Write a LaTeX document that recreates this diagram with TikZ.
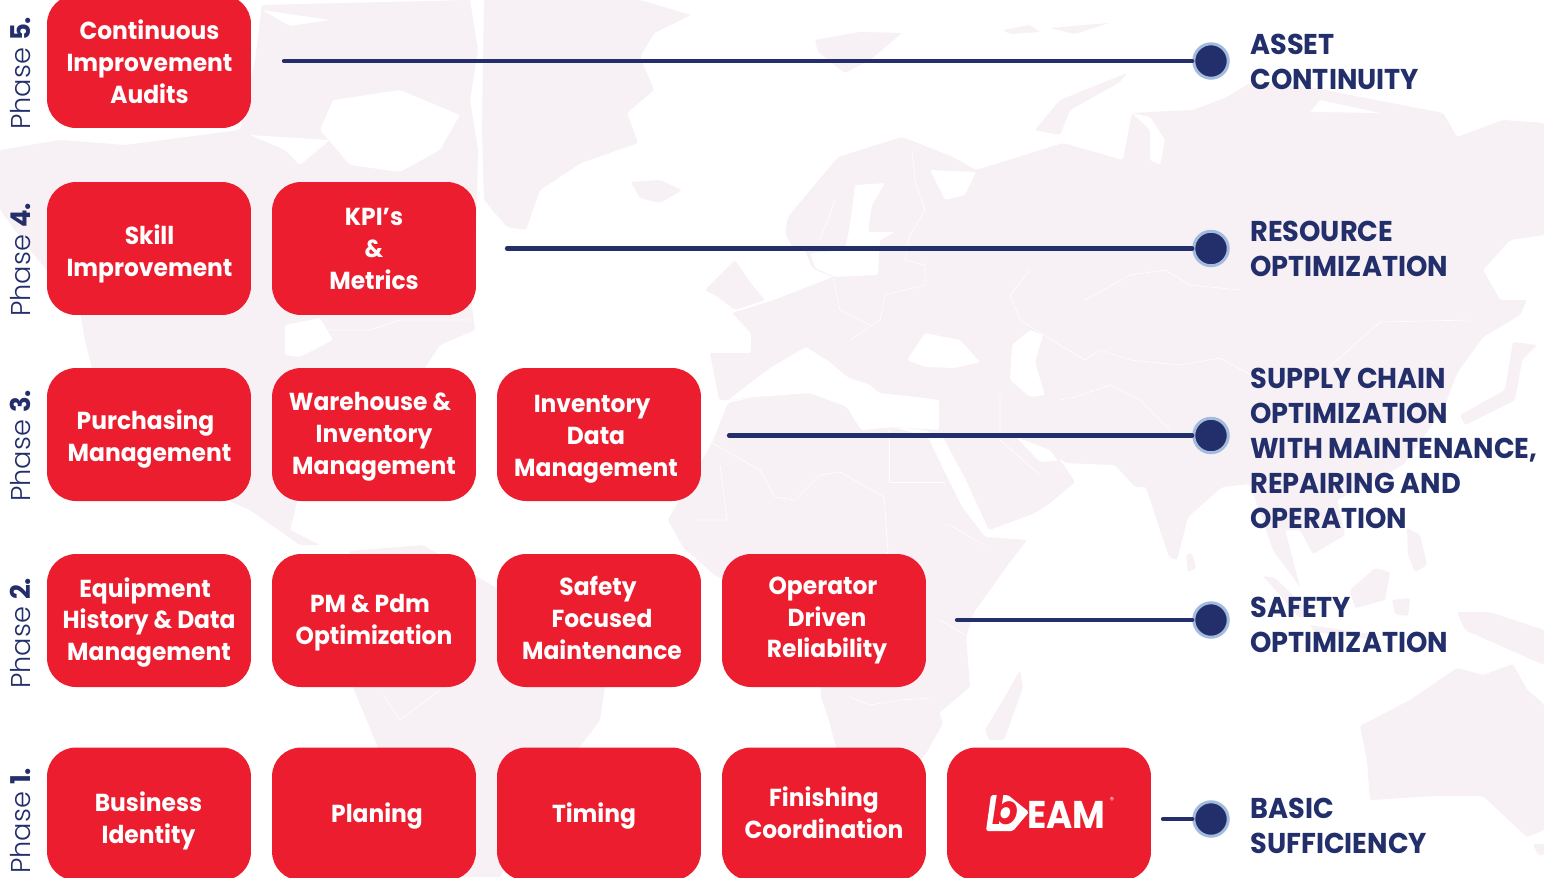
\documentclass[tikz,border=0pt]{standalone}
\usepackage{fontspec}
\setmainfont[FakeStretch=0.95]{Poppins}
\newfontfamily\phasefont{Poppins Light}
\usetikzlibrary{calc}
\definecolor{boxred}{HTML}{EC1D2E}
\definecolor{navyink}{HTML}{232F6B}
\definecolor{dotring}{HTML}{A3BCDD}
\definecolor{landpink}{HTML}{F7F0F4}
\tikzset{
	land/.style={fill=landpink, rounded corners=1.2pt},
	sea/.style={fill=white, rounded corners=1.2pt},
	border/.style={draw=white, line width=0.35pt},
	taskbox/.style={fill=boxred, rounded corners=0.58cm, minimum width=4.08cm, minimum height=2.66cm, inner sep=0pt},
	tasktext/.style={text=white, inner sep=0pt, align=center, font=\fontsize{14}{18.2}\selectfont\bfseries},
	goallabel/.style={text=navyink, anchor=west, inner sep=0pt, align=left, font=\fontsize{16.3}{19.9}\selectfont\bfseries},
	phaselabel/.style={text=navyink, rotate=90, anchor=base west, inner sep=0pt, font=\fontsize{15.5}{18}\selectfont},
	golink/.style={draw=navyink, line width=2.4pt, line cap=round},
	godot/.style={circle, fill=navyink, draw=dotring, line width=1.7pt, minimum size=0.69cm, inner sep=0pt}
}
\newcommand{\phasetag}[1]{{\phasefont Phase} {\bfseries #1.}}
\newcommand{\nudge}{\hspace*{4.5pt}}

\begin{document}
\begin{tikzpicture}[x=0.02cm, y=-0.02cm]
	%%%%% PAGE %%%%%
	\clip (0, 0) rectangle (1544, 877);
	\fill[white] (0, 0) rectangle (1544, 877);

	%%%%% MAP %%%%%
	% north america
	\fill[land] (0,150) -- (60,140) -- (125,145) -- (240,130) -- (255,60) -- (262,5) -- (470,0) -- (478,50) -- (470,100) -- (478,150) -- (476,235) -- (470,290) -- (475,330) -- (440,345) -- (420,375) -- (385,395) -- (375,420) -- (355,450) -- (370,490) -- (350,490) -- (330,480) -- (300,490) -- (290,530) -- (320,545) -- (300,545) -- (250,510) -- (205,490) -- (150,450) -- (100,400) -- (85,340) -- (80,310) -- (30,250) -- (0,210) -- cycle;
	\fill[sea] (333,100) -- (400,90) -- (460,115) -- (440,150) -- (400,172) -- (350,165) -- (320,130) -- cycle;
	\fill[sea] (285,150) -- (250,135) -- (330,140) -- (300,165) -- cycle;
	\fill[sea] (285,325) -- (320,318) -- (333,340) -- (300,357) -- (285,355) -- cycle;
	\fill[sea] (262,10) -- (330,20) -- (290,26) -- cycle;
	% greenland, iceland, svalbard and the rest of the north
	\fill[land] (484,0) -- (640,0) -- (691,15) -- (654,33) -- (640,57) -- (654,90) -- (627,113) -- (638,143) -- (581,163) -- (540,190) -- (526,230) -- (507,227) -- (484,200) -- (482,130) -- cycle;
	\fill[land] (631,182) -- (660,180) -- (682,190) -- (660,203) -- (640,198) -- cycle;
	\fill[land] (815,40) -- (860,32) -- (902,33) -- (870,60) -- (845,73) -- (818,52) -- cycle;
	\fill[land] (1003,30) -- (1030,25) -- (1040,32) -- (1010,34) -- cycle;
	\fill[land] (1050,28) -- (1109,23) -- (1075,34) -- cycle;
	\fill[land] (1035,130) -- (1060,100) -- (1127,73) -- (1120,82) -- (1070,110) -- (1060,135) -- cycle;
	% british isles
	\fill[land] (705,290) -- (720,275) -- (735,260) -- (752,285) -- (765,300) -- (735,310) -- (715,295) -- cycle;
	% eurasia
	\fill[land] (788,217) -- (838,157) -- (902,137) -- (953,157) -- (976,170) -- (999,163) -- (1063,143) -- (1123,160) -- (1132,113) -- (1193,110) -- (1227,97) -- (1250,83) -- (1310,87) -- (1360,97) -- (1443,113) -- (1457,137) -- (1503,120) -- (1544,123) -- (1544,235) -- (1510,240) -- (1483,270) -- (1500,300) -- (1527,300) -- (1520,315) -- (1483,337) -- (1457,373) -- (1443,410) -- (1403,465) -- (1337,500) -- (1345,535) -- (1313,554) -- (1300,530) -- (1285,530) -- (1300,587) -- (1273,550) -- (1250,484) -- (1222,487) -- (1188,517) -- (1177,560) -- (1169,557) -- (1146,487) -- (1135,487) -- (1115,465) -- (1066,463) -- (1058,457) -- (1075,482) -- (1050,503) -- (1035,513) -- (989,530) -- (966,480) -- (943,437) -- (925,430) -- (893,427) -- (861,430) -- (847,407) -- (810,393) -- (728,400) -- (719,400) -- (710,353) -- (751,353) -- (751,333) -- (732,313) -- (774,300) -- (833,277) -- (812,268) -- (805,250) -- (792,247) -- (785,233) -- cycle;
	% africa
	\fill[land] (728,403) -- (755,397) -- (810,393) -- (847,407) -- (861,430) -- (893,427) -- (928,437) -- (945,473) -- (962,507) -- (985,537) -- (1027,540) -- (1010,562) -- (974,612) -- (966,637) -- (970,687) -- (939,713) -- (943,723) -- (928,750) -- (900,790) -- (860,790) -- (836,747) -- (828,717) -- (821,697) -- (820,600) -- (770,585) -- (717,577) -- (683,547) -- (668,520) -- (712,443) -- cycle;
	\fill[land] (985,730) -- (1003,700) -- (1020,670) -- (1023,687) -- (1004,740) -- (989,740) -- cycle;
	% seas cut into the land
	\fill[sea] (728,400) -- (770,368) -- (806,347) -- (830,362) -- (847,377) -- (870,385) -- (879,393) -- (925,398) -- (939,400) -- (939,430) -- (893,427) -- (861,430) -- (847,407) -- (810,393) -- (755,397) -- cycle;
	\fill[sea] (855,185) -- (885,183) -- (872,205) -- (868,232) -- (895,232) -- (880,240) -- (878,275) -- (835,277) -- (815,268) -- (810,253) -- (845,250) -- (850,225) -- cycle;
	\fill[sea] (930,170) -- (976,172) -- (965,195) -- (945,200) -- cycle;
	\fill[sea] (907,360) -- (925,333) -- (960,340) -- (980,362) -- (955,368) -- (925,367) -- cycle;
	\fill[sea] (1012,345) -- (1030,330) -- (1043,335) -- (1035,362) -- (1045,395) -- (1030,397) -- (1010,380) -- cycle;
	\fill[sea] (1016,437) -- (1050,450) -- (1058,461) -- (1040,462) -- cycle;
	\fill[sea] (1132,113) -- (1150,117) -- (1165,140) -- (1160,165) -- (1150,160) -- (1150,130) -- cycle;
	\fill[sea] (1380,113) -- (1310,112) -- (1320,100) -- cycle;
	% south america
	\fill[land] (350,551) -- (423,545) -- (500,590) -- (610,650) -- (600,720) -- (540,800) -- (500,877) -- (430,877) -- (395,800) -- (377,745) -- (353,687) -- (338,610) -- cycle;
	% islands of the far east, australia
	\fill[land] (1186,555) -- (1192,553) -- (1196,568) -- (1188,572) -- cycle;
	\fill[land] (1537,345) -- (1513,342) -- (1505,390) -- (1460,415) -- (1465,425) -- (1515,400) -- (1522,360) -- cycle;
	\fill[land] (1263,576) -- (1275,578) -- (1310,612) -- (1300,618) -- cycle;
	\fill[land] (1350,590) -- (1375,568) -- (1390,572) -- (1385,600) -- (1355,608) -- cycle;
	\fill[land] (1407,528) -- (1420,535) -- (1427,565) -- (1415,572) -- (1408,555) -- cycle;
	\fill[land] (1392,600) -- (1410,598) -- (1408,616) -- (1395,614) -- cycle;
	\fill[land] (1310,625) -- (1375,635) -- (1375,640) -- (1315,632) -- cycle;
	\fill[land] (1457,612) -- (1490,612) -- (1544,630) -- (1544,665) -- (1510,650) -- (1465,630) -- cycle;
	\fill[land] (1360,726) -- (1410,700) -- (1457,668) -- (1483,675) -- (1513,664) -- (1527,690) -- (1544,704) -- (1544,830) -- (1527,837) -- (1483,796) -- (1433,796) -- (1370,800) -- (1367,760) -- cycle;
	\fill[land] (1533,844) -- (1544,844) -- (1544,855) -- (1538,855) -- cycle;
	% a few national borders
	\draw[border] (712,443) -- (760,470) -- (775,497) -- (795,500) -- (820,475) -- (840,472) -- (884,497) -- (888,552) -- (872,570) -- (878,600);
	\draw[border] (889,430) -- (889,482) -- (945,482);
	\draw[border] (720,465) -- (727,520) -- (695,520);
	\draw[border] (945,525) -- (950,525) -- (975,540) -- (985,545);
	\draw[border] (940,620) -- (965,635);
	\draw[border] (850,697) -- (870,705) -- (900,700) -- (930,698);
	\draw[border] (835,200) -- (820,240);
	\draw[border] (912,150) -- (915,180) -- (925,210) -- (910,235) -- (905,260) -- (925,265) -- (925,285);
	\draw[border] (833,277) -- (840,310) -- (870,325);
	\draw[border] (925,285) -- (885,295) -- (880,320) -- (850,340);
	\draw[border] (1030,270) -- (1010,295) -- (1020,320) -- (1060,345) -- (1085,360) -- (1100,350) -- (1130,360) -- (1180,365) -- (1220,358);
	\draw[border] (1085,300) -- (1130,275) -- (1165,270) -- (1190,285) -- (1240,290);
	\draw[border] (1060,400) -- (1075,397) -- (1110,385) -- (1140,400) -- (1170,430);
	\draw[border] (1220,358) -- (1260,380) -- (1320,375) -- (1380,322) -- (1470,320);
	\draw[border] (1000,395) -- (1000,440) -- (1040,475);
	\draw[border] (383,695) -- (400,720) -- (440,690);
	\draw[border] (315,330) -- (370,330) -- (400,320) -- (470,320);

	%%%%% BOXES %%%%%
	\node[taskbox] (audits) at (149, 61.5) {};

	\node[taskbox] (skill) at (149, 248.5) {};
	\node[taskbox] (kpi) at (374, 248.5) {};

	\node[taskbox] (purchasing) at (149, 434.5) {};
	\node[taskbox] (warehouse) at (374, 434.5) {};
	\node[taskbox] (inventory) at (599, 434.5) {};

	\node[taskbox] (equipment) at (149, 620.5) {};
	\node[taskbox] (pmpdm) at (374, 620.5) {};
	\node[taskbox] (safety) at (599, 620.5) {};
	\node[taskbox] (operator) at (824, 620.5) {};

	\node[taskbox] (business) at (149, 814) {};
	\node[taskbox] (planing) at (374, 814) {};
	\node[taskbox] (timing) at (599, 814) {};
	\node[taskbox] (finishing) at (824, 814) {};
	\node[taskbox] (logobox) at (1049, 814) {};

	%%%%% BOX TEXTS %%%%%
	\node[tasktext] (auditstext) at (149.5, 61.5) {Continuous\\Improvement\\Audits};

	\node[tasktext] (skilltext) at (149.5, 253.5) {Skill\\Improvement};
	\node[tasktext] (kpitext) at (374, 248.5) {KPI's\\\&\\Metrics};

	\node[tasktext] (purchasingtext) at (149.5, 439.5) {Purchasing\nudge\\Management};
	\node[tasktext] (warehousetext) at (374, 436.5) {Warehouse \&\nudge\\Inventory\nudge\\Management};
	\node[tasktext] (inventorytext) at (596, 439.5) {Inventory\nudge\\Data\nudge\\Management};

	\node[tasktext] (equipmenttext) at (149, 622.5) {Equipment\nudge\\History \& Data\nudge\\Management};
	\node[tasktext] (pmpdmtext) at (374, 622.5) {PM \& Pdm\nudge\\Optimization};
	\node[tasktext] (safetytext) at (602, 617.5) {Safety\nudge\\Focused\nudge\\Maintenance};
	\node[tasktext] (operatortext) at (827, 620.5) {Operator\nudge\\Driven\nudge\\Reliability};

	\node[tasktext] (businesstext) at (148.5, 821) {Business\\Identity};
	\node[tasktext] (planingtext) at (377, 816) {Planing};
	\node[tasktext] (timingtext) at (594, 816) {Timing};
	\node[tasktext] (finishingtext) at (824, 813) {Finishing\\Coordination};

	%%%%% LOGO %%%%%
	\fill[white, rounded corners=1pt] (991, 795) -- (1008, 795) -- (1029, 812) -- (1013, 831) -- (986, 831) -- cycle;
	\node[text=boxred, inner sep=0pt, xslant=0.15, font=\fontsize{23}{23}\selectfont\bfseries] (logob) at (1006, 810) {b};
	\node[text=white, inner sep=0pt, anchor=base west, xscale=0.97, font=\fontsize{22}{23}\selectfont\bfseries] (logoeam) at (1027, 828) {EAM};
	\node[text=white, inner sep=0pt, font=\fontsize{5}{5}\selectfont] (logomark) at (1112, 800) {®};

	%%%%% PHASES %%%%%
	\node[phaselabel] (phasefive) at (31, 130) {\phasetag{5}};
	\node[phaselabel] (phasefour) at (31, 317) {\phasetag{4}};
	\node[phaselabel] (phasethree) at (31, 502) {\phasetag{3}};
	\node[phaselabel] (phasetwo) at (31, 689) {\phasetag{2}};
	\node[phaselabel] (phaseone) at (31, 874) {\phasetag{1}};

	%%%%% GOALS %%%%%
	\node[godot] (dotfive) at (1211, 61) {};
	\node[godot] (dotfour) at (1211, 248.5) {};
	\node[godot] (dotthree) at (1211, 435.5) {};
	\node[godot] (dottwo) at (1211, 620) {};
	\node[godot] (dotone) at (1211, 819) {};

	\coordinate (startfive) at (284, 61);
	\coordinate (startfour) at (507, 248.5);
	\coordinate (startthree) at (729, 435.5);
	\coordinate (starttwo) at (957, 620);
	\coordinate (startone) at (1163, 819);

	\draw[golink] (startfive) -- (dotfive);
	\draw[golink] (startfour) -- (dotfour);
	\draw[golink] (startthree) -- (dotthree);
	\draw[golink] (starttwo) -- (dottwo);
	\draw[golink] (startone) -- (dotone);

	\node[goallabel] (goalfive) at (1250, 62) {ASSET\\CONTINUITY};
	\node[goallabel] (goalfour) at (1250, 249) {RESOURCE\\OPTIMIZATION};
	\node[goallabel] (goalthree) at (1250, 448.5) {SUPPLY CHAIN\\OPTIMIZATION\\WITH MAINTENANCE,\\REPAIRING AND\\OPERATION};
	\node[goallabel] (goaltwo) at (1250, 625) {SAFETY\\OPTIMIZATION};
	\node[goallabel] (goalone) at (1250, 826) {BASIC\\SUFFICIENCY};
	%%%%% END %%%%%
\end{tikzpicture}
\end{document}
